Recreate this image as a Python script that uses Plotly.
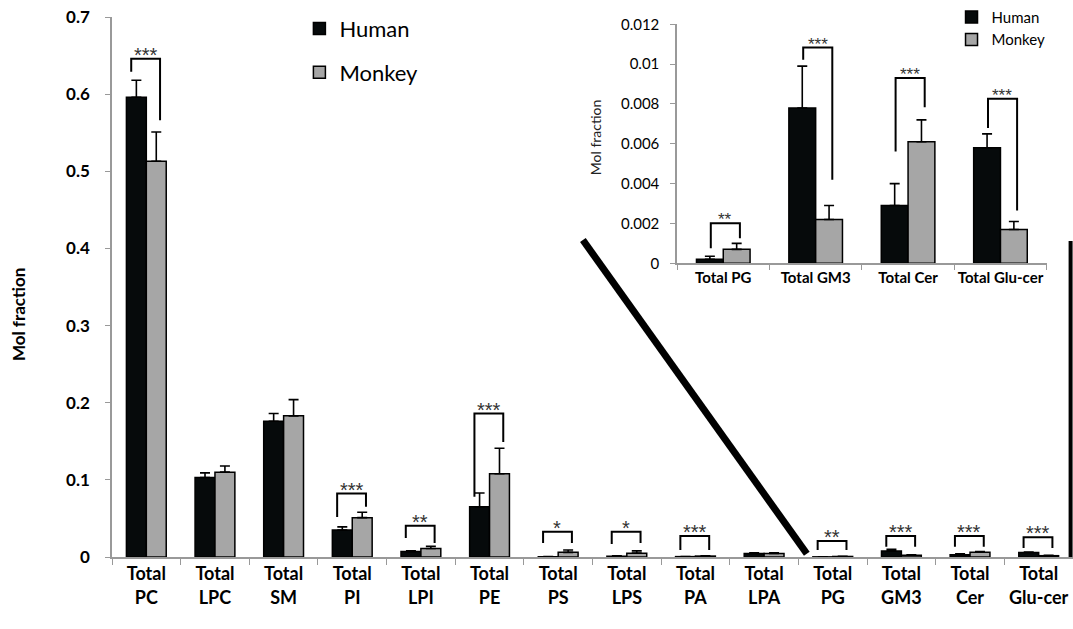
import plotly.graph_objects as go

# ---- data ----
categories = ["Total<br>PC", "Total<br>LPC", "Total<br>SM", "Total<br>PI", "Total<br>LPI",
              "Total<br>PE", "Total<br>PS", "Total<br>LPS", "Total<br>PA", "Total<br>LPA",
              "Total<br>PG", "Total<br>GM3", "Total<br>Cer", "Total<br>Glu-cer"]
human = [0.596, 0.103, 0.176, 0.035, 0.007, 0.065, 0.0003, 0.001, 0.0005, 0.0045,
         0.0002, 0.0078, 0.0029, 0.0058]
human_err = [0.022, 0.006, 0.010, 0.004, 0.001, 0.018, 0.0002, 0.0005, 0.0002, 0.001,
             0.00015, 0.0021, 0.0011, 0.0007]
monkey = [0.513, 0.110, 0.183, 0.051, 0.011, 0.108, 0.006, 0.005, 0.0012, 0.0045,
          0.0007, 0.0022, 0.0061, 0.0017]
monkey_err = [0.038, 0.008, 0.021, 0.007, 0.003, 0.033, 0.003, 0.003, 0.0005, 0.001,
              0.0003, 0.0007, 0.0011, 0.0004]

inset_categories = ["Total PG", "Total GM3", "Total Cer", "Total Glu-cer"]
inset_human = human[10:]
inset_human_err = human_err[10:]
inset_monkey = monkey[10:]
inset_monkey_err = monkey_err[10:]

# significance brackets (main): category index, stars, top, left-leg bottom, right-leg bottom
sig_idx = [0, 3, 4, 5, 6, 7, 8, 10, 11, 12, 13]
sig_stars = ["***", "***", "**", "***", "*", "*", "***", "**", "***", "***", "***"]
sig_top = [0.646, 0.0823, 0.0406, 0.186, 0.0328, 0.0328, 0.0272, 0.0207, 0.0272, 0.0272, 0.0255]
sig_left = [0.629, 0.052, 0.0246, 0.078, 0.0182, 0.0170, 0.0091, 0.0091, 0.0134, 0.0134, 0.0117]
sig_right = [0.566, 0.065, 0.018, 0.149, 0.0182, 0.0182, 0.0091, 0.0091, 0.0134, 0.0134, 0.0117]

# inset brackets
isig_stars = ["**", "***", "***", "***"]
isig_top = [0.00201, 0.01083, 0.00930, 0.00826]
isig_left = [0.00075, 0.01022, 0.00561, 0.00679]
isig_right = [0.00126, 0.00419, 0.00784, 0.00265]

HUMAN_C = "#060a0b"
MONKEY_C = "#a6a6a6"
FONT = "Lato"
STAR_FONT = "Liberation Sans"

fig = go.Figure()

def err(arr):
    return dict(type="data", symmetric=False, array=arr, arrayminus=[0] * len(arr),
                color="black", thickness=1.6, width=5)

fig.add_trace(go.Bar(x=categories, y=human, name="Human", marker=dict(color=HUMAN_C, line=dict(color="black", width=1.5)),
                     error_y=err(human_err), legend="legend", legendgroup="h"))
fig.add_trace(go.Bar(x=categories, y=monkey, name="Monkey", marker=dict(color=MONKEY_C, line=dict(color="black", width=1.5)),
                     error_y=err(monkey_err), legend="legend", legendgroup="m"))
fig.add_trace(go.Bar(x=inset_categories, y=inset_human, name="Human", xaxis="x2", yaxis="y2",
                     marker=dict(color=HUMAN_C, line=dict(color="black", width=1.5)),
                     error_y=err(inset_human_err), legend="legend2", legendgroup="h2"))
fig.add_trace(go.Bar(x=inset_categories, y=inset_monkey, name="Monkey", xaxis="x2", yaxis="y2",
                     marker=dict(color=MONKEY_C, line=dict(color="black", width=1.5)),
                     error_y=err(inset_monkey_err), legend="legend2", legendgroup="m2"))

shapes = []
annotations = []
for i, s, t, l, r in zip(sig_idx, sig_stars, sig_top, sig_left, sig_right):
    xl, xr = i - 0.22, i + 0.2
    shapes.append(dict(type="path", xref="x", yref="y",
                       path=f"M {xl},{l} L {xl},{t} L {xr},{t} L {xr},{r}",
                       line=dict(color="black", width=2)))
    annotations.append(dict(x=i - 0.01, y=t, xref="x", yref="y", text=s, showarrow=False,
                            yanchor="bottom", yshift=-9,
                            font=dict(family=STAR_FONT, size=20, color="#333333")))
for i, (s, t, l, r) in enumerate(zip(isig_stars, isig_top, isig_left, isig_right)):
    xl, xr = i - 0.135, i + 0.18
    shapes.append(dict(type="path", xref="x2", yref="y2",
                       path=f"M {xl},{l} L {xl},{t} L {xr},{t} L {xr},{r}",
                       line=dict(color="black", width=2)))
    annotations.append(dict(x=i + 0.02, y=t, xref="x2", yref="y2", text=s, showarrow=False,
                            yanchor="bottom", yshift=-8,
                            font=dict(family=STAR_FONT, size=17, color="#333333")))

# zoom indicator lines
shapes.append(dict(type="line", xref="paper", yref="paper", x0=0.490, y0=0.587, x1=0.723, y1=0.006,
                   line=dict(color="black", width=7)))
shapes.append(dict(type="line", xref="paper", yref="paper", x0=0.9975, y0=0.0, x1=0.9975, y1=0.585,
                   line=dict(color="black", width=4)))

annotations.append(dict(x=-0.0978, y=0.448, xref="paper", yref="paper", text="<b>Mol fraction</b>",
                        xanchor="center", yanchor="middle",
                        textangle=-90, showarrow=False, font=dict(family=FONT, size=17, color="black")))
annotations.append(dict(x=0.504, y=0.778, xref="paper", yref="paper", text="Mol fraction",
                        xanchor="center", yanchor="middle",
                        textangle=-90, showarrow=False, font=dict(family=FONT, size=14, color="#222")))

fig.update_layout(
    width=1073, height=629,
    margin=dict(l=112, r=0, t=17, b=72, autoexpand=False),
    paper_bgcolor="white", plot_bgcolor="white",
    barmode="group", bargap=0.42, bargroupgap=0,
    font=dict(family=FONT, color="black"),
    xaxis=dict(domain=[0, 1], tickson="boundaries", ticks="outside", ticklen=6, tickcolor="#999",
               showline=True, linecolor="#999", linewidth=1.5, showgrid=False, tickangle=0,
               automargin=False,
               tickfont=dict(family=FONT, size=18, color="black"), tickprefix="<b>", ticksuffix="</b>"),
    yaxis=dict(range=[0, 0.7], dtick=0.1, ticks="outside", ticklen=5, tickcolor="#999",
               showline=True, linecolor="#999", linewidth=1.5, showgrid=False, zeroline=False,
               automargin=False, ticklabeloverflow="allow",
               tickfont=dict(family=FONT, size=17, color="black"), tickprefix="<b>", ticksuffix="</b>",
               ticklabelstandoff=12),
    xaxis2=dict(domain=[0.588, 0.9726], anchor="y2", tickson="boundaries", ticks="outside", ticklen=5,
                tickcolor="#999", showline=True, linecolor="#999", linewidth=1.5, showgrid=False,
                tickangle=0, automargin=False,
                tickfont=dict(family=FONT, size=15, color="black"), tickprefix="<b>", ticksuffix="</b>"),
    yaxis2=dict(domain=[0.5439, 0.9865], anchor="x2", range=[0, 0.012], dtick=0.002, ticks="outside",
                ticklen=5, tickcolor="#999", showline=True, linecolor="#999", linewidth=1.5,
                showgrid=False, zeroline=False, automargin=False, ticklabeloverflow="allow",
                tickfont=dict(family=FONT, size=15, color="black"), ticklabelstandoff=8),
    legend=dict(x=0.195, y=1.017, xanchor="left", yanchor="top",
                font=dict(family=FONT, size=22, color="black"), tracegroupgap=12, bgcolor="rgba(0,0,0,0)"),
    legend2=dict(x=0.8736, y=1.03, xanchor="left", yanchor="top",
                 font=dict(family=FONT, size=15, color="black"), tracegroupgap=0, bgcolor="rgba(0,0,0,0)"),
    shapes=shapes, annotations=annotations,
)

# remove the browser's default 8px body margin so the figure fills the window exactly
fig.write_html("out.html", config={"displayModeBar": False},
               post_script="document.body.style.margin='0';document.body.style.overflow='hidden';")
